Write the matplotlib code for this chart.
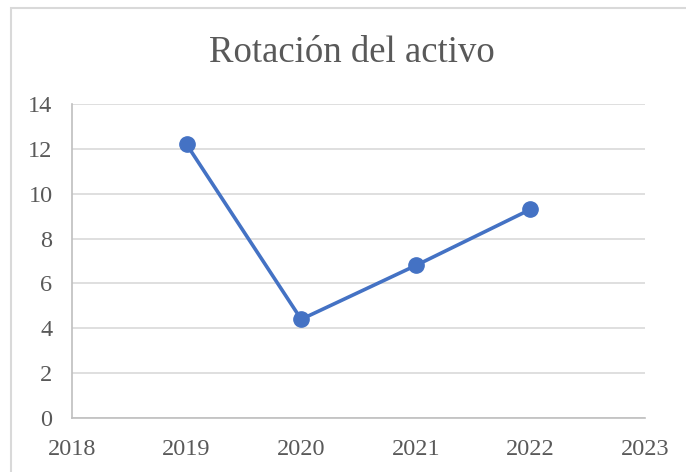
import matplotlib.pyplot as plt
from matplotlib.patches import Rectangle

years = [2019, 2020, 2021, 2022]
rotacion = [12.2, 4.4, 6.8, 9.3]
x_ticks = [2018, 2019, 2020, 2021, 2022, 2023]
y_ticks = [0, 2, 4, 6, 8, 10, 12, 14]

plt.rcParams['font.family'] = ['Liberation Serif', 'DejaVu Serif']

fig = plt.figure(figsize=(6.86, 4.72), dpi=100)
ax = fig.add_axes([72 / 686, 1 - 418 / 472, (645 - 72) / 686, (418 - 104) / 472])

# chart border like Excel chart area
fig.patches.append(Rectangle((11 / 686, -0.1), 1.0, 1 - 8 / 472 + 0.1,
                             transform=fig.transFigure, fill=False,
                             edgecolor='#d9d9d9', linewidth=1.5))

ax.plot(years, rotacion, color='#4472C4', linewidth=2.6, marker='o',
        markersize=11, zorder=3)

ax.set_xlim(2018, 2023)
ax.set_ylim(0, 14)
ax.set_xticks(x_ticks)
ax.set_yticks(y_ticks)
ax.grid(axis='y', color='#d9d9d9', linewidth=1.2)
ax.set_axisbelow(True)

for side in ['top', 'right']:
    ax.spines[side].set_visible(False)
for side in ['left', 'bottom']:
    ax.spines[side].set_color('#bfbfbf')
    ax.spines[side].set_linewidth(1.2)

ax.tick_params(axis='both', length=0, labelsize=17.5, colors='#595959')
ax.tick_params(axis='x', pad=15)
ax.tick_params(axis='y', pad=14)

fig.text(352 / 686, 1 - 62 / 472, 'Rotación del activo', ha='center',
         va='baseline', fontsize=26.5, color='#595959')

fig.savefig('out.png', dpi=100)
